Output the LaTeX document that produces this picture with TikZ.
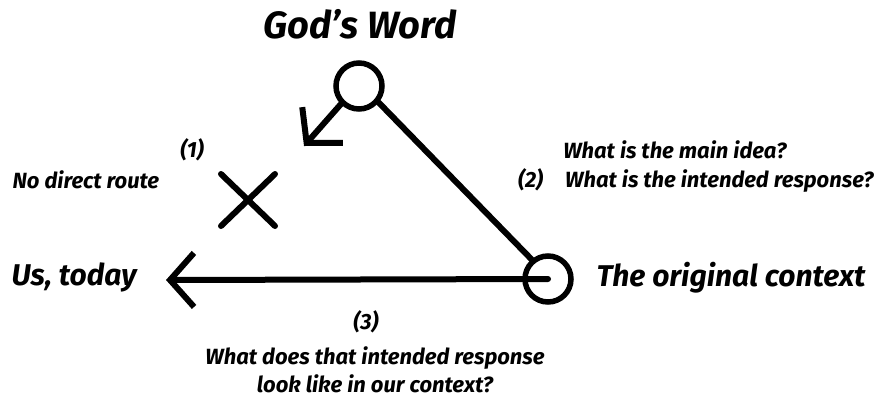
\documentclass[tikz,border=0pt]{standalone}
\usepackage{fontspec}
\setmainfont{Fira Sans}
\usetikzlibrary{arrows.meta}

\begin{document}
\begin{tikzpicture}[x=1pt, y=-1pt,
  stroke/.style={line width=6pt, line cap=round},
  ring/.style={circle, draw, line width=5.5pt, minimum size=46pt, inner sep=0pt},
  big/.style={font=\fontsize{30}{34}\selectfont\bfseries\itshape},
  small/.style={font=\fontsize{22}{28}\selectfont\bfseries\itshape, align=center},
  barb/.style={-{Straight Barb[length=24pt,width=54pt,line width=6pt]}}]
  \useasboundingbox (0,0) rectangle (882,400);
  \node[ring] (word) at (359,86) {};
  \node[ring] (orig) at (548,279) {};
  \node[big, font=\fontsize{38}{42}\selectfont\bfseries\itshape] (title) at (360,24) {God's Word};
  \node[big, anchor=west] (us) at (8,277) {Us, today};
  \node[big, anchor=west] (ctx) at (593,278) {The original context};
  \coordinate (usend) at (166,280);
  \coordinate (wordend) at (304,146);
  % arrows
  \draw[stroke, barb] (word.225) -- (wordend);
  \draw[stroke] (word.-40) -- (orig.130);
  \draw[stroke, barb] (orig.center) -- (usend);
  % no direct route
  \draw[stroke] (221,174) -- (275,226);
  \draw[stroke] (275,174) -- (221,226);
  \node[small] (n1) at (192,150) {(1)};
  \node[small, anchor=west] (nodirect) at (9,180) {No direct route};
  \node[small, anchor=east] (q1) at (790,150) {What is the main idea?};
  \node[small, anchor=east] (q2) at (877,180) {(2)\quad What is the intended response?};
  \node[small] (n3) at (366,322) {(3)};
  \node[small] (q3) at (375,370) {What does that intended response\\look like in our context?};
\end{tikzpicture}
\end{document}
